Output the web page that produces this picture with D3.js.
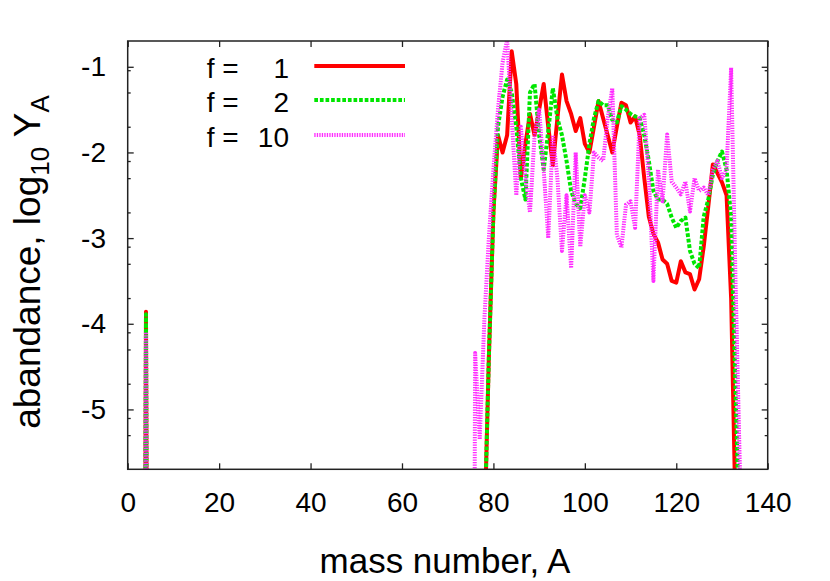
<!DOCTYPE html>
<html>
<head>
<meta charset="utf-8">
<script src="https://cdn.jsdelivr.net/npm/d3@7"></script>
<style>
  html, body { margin: 0; padding: 0; background: #fff; }
  svg { display: block; }
  text { font-family: "Liberation Sans", Arial, Helvetica, sans-serif; fill: #000; }
</style>
</head>
<body>
<svg id="chart" width="830" height="581"></svg>
<script>
// ---- data (log10 abundance vs mass number); -20 marks values far below the plotted range ----
const massNumbers = [3, 4, 5,
  74, 75, 76, 77, 78, 79, 80, 81, 82, 83, 84, 85, 86, 87, 88, 89, 90,
  91, 92, 93, 94, 95, 96, 97, 98, 99, 100, 101, 102, 103, 104, 105, 106, 107, 108, 109, 110,
  111, 112, 113, 114, 115, 116, 117, 118, 119, 120, 121, 122, 123, 124, 125, 126, 127, 128, 129, 130,
  131, 132, 133, 134, 135];

const abundF1 = [-20, -3.86, -20,
  -20, -20, -20, -12, -6.5, -4.4, -2.7, -1.8, -2.0, -1.8, -0.82, -1.2, -2.3, -1.9, -1.55, -1.8, -1.5,
  -1.2, -1.7, -2.15, -1.6, -1.09, -1.4, -1.55, -1.75, -1.6, -1.9, -2.0, -1.7, -1.4, -1.6, -1.8, -2.0, -1.7, -1.42, -1.45, -1.65,
  -1.58, -1.8, -2.3, -2.75, -2.95, -3.05, -3.25, -3.3, -3.5, -3.52, -3.27, -3.4, -3.42, -3.6, -3.48, -3.1, -2.63, -2.14, -2.24, -2.35,
  -2.5, -3.7, -6.3, -20, -20];

const abundF2 = [-20, -3.89, -20,
  -20, -20, -20, -12, -6.5, -4.4, -2.7, -1.7, -1.35, -1.15, -1.3, -1.7, -2.3, -2.55, -1.3, -1.2, -1.8,
  -2.2, -1.75, -1.25, -1.6, -1.8, -2.1, -2.45, -2.6, -2.65, -2.3, -1.9, -1.6, -1.4, -1.45, -1.45, -1.62, -1.65, -1.46, -1.5, -1.55,
  -1.58, -1.6, -1.8, -2.1, -2.45, -2.55, -2.55, -2.6, -2.76, -2.88, -2.8, -2.76, -3.15, -3.3, -3.35, -2.75, -2.55, -2.26, -2.1, -1.99,
  -2.2, -2.75, -4.85, -6.8, -20];

const abundF10 = [-20, -4.1, -20,
  -20, -20, -4.34, -5.35, -3.97, -3.0, -2.2, -1.5, -0.95, -0.68, -1.6, -2.5, -1.7, -2.3, -2.7, -1.8, -1.5,
  -2.2, -3.0, -1.8, -2.3, -3.15, -2.5, -3.35, -2.0, -3.1, -2.5, -2.7, -2.0, -2.06, -2.1, -1.6, -1.25, -2.96, -3.11, -2.61, -2.57,
  -2.88, -1.6, -1.56, -2.3, -3.5, -2.2, -2.57, -1.79, -2.34, -2.41, -2.49, -2.34, -2.69, -2.3, -2.45, -2.41, -2.5, -2.2, -2.1, -2.3,
  -2.2, -1.01, -3.6, -5.9, -20];

const seriesLabels = ["1", "2", "10"];
const xTickValues = [0, 20, 40, 60, 80, 100, 120, 140];
const yTickValues = [-1, -2, -3, -4, -5];
const yMinorTickValues = [-1.04, -1.30, -1.70, -2.10, -2.30, -2.70, -3.10, -3.30, -3.70, -4.10, -4.30, -4.70, -5.10, -5.30];

// ---- layout ----
const svg = d3.select("#chart");
const pLeft = 127.7, pRight = 767.7, pTop = 41, pBottom = 469.3;
const x = d3.scaleLinear().domain([0, 140]).range([pLeft, pRight]);
const y = d3.scaleLinear().domain([-5.699, -0.699]).range([pBottom, pTop]);

const styles = [
  { color: "#ff0000", width: 4, dash: null },
  { color: "#00e600", width: 4, dash: "3.7,1.9" },
  { color: "#ff2bff", width: 4, dash: "1.3,1.2" }
];
const allSeries = [abundF1, abundF2, abundF10];

svg.append("defs").append("clipPath").attr("id", "plotclip")
  .append("rect").attr("x", pLeft).attr("y", pTop).attr("width", pRight - pLeft).attr("height", pBottom - pTop);

// data lines
const line = d3.line().x((d, i) => x(massNumbers[i])).y(d => y(d));
const plot = svg.append("g").attr("clip-path", "url(#plotclip)");
allSeries.forEach((vals, k) => {
  const p = plot.append("path")
    .attr("d", line(vals))
    .attr("fill", "none")
    .attr("stroke", styles[k].color)
    .attr("stroke-width", styles[k].width)
    .attr("stroke-linejoin", "round");
  if (styles[k].dash) p.attr("stroke-dasharray", styles[k].dash);
});

// axes
const tickColor = "#222";
function styleAxis(g) {
  g.select(".domain").remove();
  g.selectAll(".tick line").attr("stroke", tickColor).attr("stroke-width", 1.3);
  g.selectAll("text").style("font-size", "28px").style("font-family", '"Liberation Sans", Arial, sans-serif').attr("fill", "#000");
}
svg.append("g").attr("transform", `translate(0,${pBottom})`)
  .call(d3.axisBottom(x).tickValues(xTickValues).tickSize(-6).tickPadding(22.8).tickFormat(d3.format("d")))
  .call(styleAxis);
svg.append("g").attr("transform", `translate(0,${pTop})`)
  .call(d3.axisTop(x).tickValues(xTickValues).tickSize(-6).tickFormat(""))
  .call(styleAxis);
svg.append("g").attr("transform", `translate(${pLeft},0)`)
  .call(d3.axisLeft(y).tickValues(yTickValues).tickSize(-6).tickPadding(21.7).tickFormat(d => "-" + Math.abs(d)))
  .call(styleAxis);
svg.append("g").attr("transform", `translate(${pRight},0)`)
  .call(d3.axisRight(y).tickValues(yTickValues).tickSize(-6).tickFormat(""))
  .call(styleAxis);
svg.append("g").attr("transform", `translate(${pLeft},0)`)
  .call(d3.axisLeft(y).tickValues(yMinorTickValues).tickSize(-3).tickFormat(""))
  .call(styleAxis);
svg.append("g").attr("transform", `translate(${pRight},0)`)
  .call(d3.axisRight(y).tickValues(yMinorTickValues).tickSize(-3).tickFormat(""))
  .call(styleAxis);

// border
svg.append("rect").attr("x", pLeft).attr("y", pTop).attr("width", pRight - pLeft).attr("height", pBottom - pTop)
  .attr("fill", "none").attr("stroke", tickColor).attr("stroke-width", 1.5);

// axis titles
svg.append("text").attr("x", 445).attr("y", 573).attr("text-anchor", "middle")
  .style("font-size", "35px").text("mass number, A");

const yl = svg.append("text").attr("transform", "translate(40,262) rotate(-90)").attr("text-anchor", "middle")
  .style("font-size", "37px");
yl.append("tspan").text("abandance, log");
yl.append("tspan").attr("dy", 9).style("font-size", "26px").text("10");
yl.append("tspan").attr("dy", -9).text(" Y");
yl.append("tspan").attr("dy", 9).style("font-size", "26px").text("A");

// legend
const legendRows = [66, 100, 135];
seriesLabels.forEach((lab, k) => {
  const ry = legendRows[k];
  svg.append("text").attr("x", 206.7).attr("y", ry + 11.5).style("font-size", "28px").text("f =");
  svg.append("text").attr("x", 289).attr("y", ry + 11.5).attr("text-anchor", "end").style("font-size", "28px").text(lab);
  const l = svg.append("line").attr("x1", 314.3).attr("x2", 405).attr("y1", ry).attr("y2", ry)
    .attr("stroke", styles[k].color).attr("stroke-width", styles[k].width);
  if (styles[k].dash) l.attr("stroke-dasharray", styles[k].dash);
});
</script>
</body>
</html>
